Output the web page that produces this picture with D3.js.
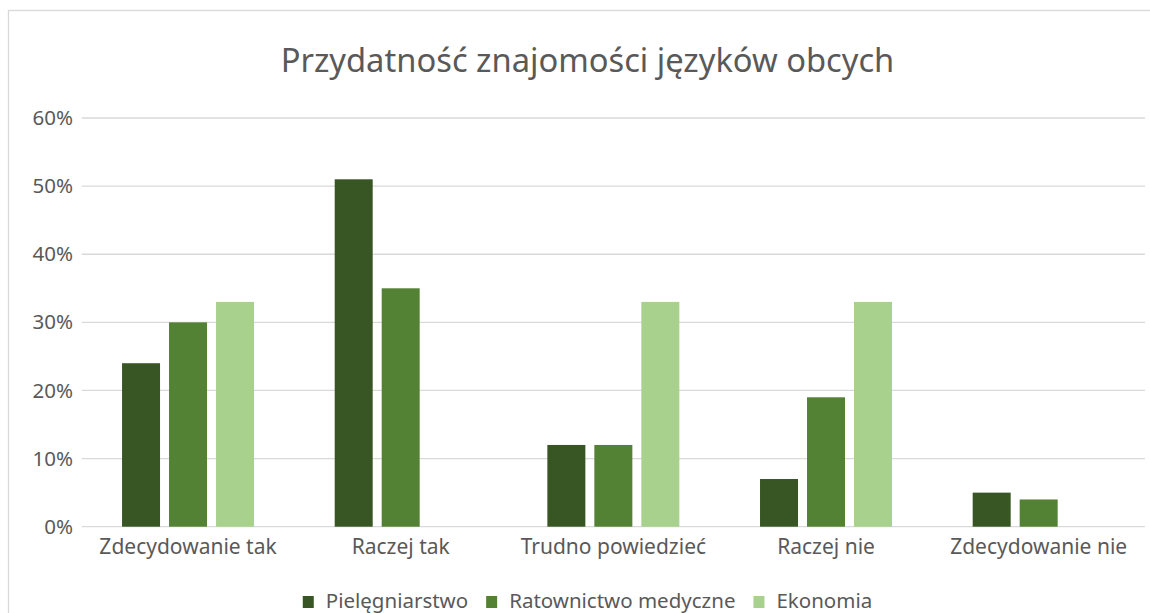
<!DOCTYPE html>
<html><head><meta charset="utf-8">
<script src="https://cdn.jsdelivr.net/npm/d3@7"></script>
<style>
html,body{margin:0;padding:0;background:#fff;}
text{font-family:"Noto Sans",sans-serif;fill:#595959;}
</style></head>
<body><svg id="chart" width="1150" height="613"></svg>
<script>
const title = "Przydatność znajomości języków obcych";
const categories = ["Zdecydowanie tak","Raczej tak","Trudno powiedzieć","Raczej nie","Zdecydowanie nie"];
const seriesNames = ["Pielęgniarstwo","Ratownictwo medyczne","Ekonomia"];
const pielegniarstwo = [0.24,0.51,0.12,0.07,0.05];
const ratownictwo = [0.30,0.35,0.12,0.19,0.04];
const ekonomia = [0.33,0.00,0.33,0.33,0.00];
const yTicks = [0,0.1,0.2,0.3,0.4,0.5,0.6];
const colors = ["#375623","#548235","#A9D18E"];

const seriesValues = [pielegniarstwo, ratownictwo, ekonomia];
const svg = d3.select("#chart");
svg.append("rect").attr("width",1150).attr("height",613).attr("fill","#fff");
svg.append("rect").attr("x",8.5).attr("y",10.5).attr("width",1300).attr("height",800)
  .attr("fill","none").attr("stroke","#D9D9D9").attr("stroke-width",1.3);

const plot = {left:81.7, right:1145, top:118, bottom:526.7};
const y = d3.scaleLinear().domain([0,0.6]).range([plot.bottom, plot.top]);
const x0 = d3.scaleBand().domain(categories).range([plot.left, plot.right]).paddingInner(0).paddingOuter(0);
const groupW = x0.bandwidth()*0.6206;
const x1 = d3.scaleBand().domain(seriesNames).range([0, groupW]).paddingInner(0.1915).paddingOuter(0);

// gridlines
svg.append("g").selectAll("line").data(yTicks).join("line")
  .attr("x1",plot.left).attr("x2",plot.right)
  .attr("y1",d=>y(d)).attr("y2",d=>y(d))
  .attr("stroke","#D9D9D9").attr("stroke-width",1.3);

// y labels
const yAxis = d3.axisLeft(y).tickValues(yTicks).tickFormat(d3.format(".0%")).tickSize(0).tickPadding(0);
const ya = svg.append("g").attr("transform",`translate(73,0)`).call(yAxis);
ya.select(".domain").remove();
ya.selectAll("text").style("font-family","'Noto Sans',sans-serif").style("font-size","20.5px").attr("fill","#595959");

// bars
const groups = svg.append("g").selectAll("g").data(categories).join("g")
  .attr("transform",d=>`translate(${x0(d)+(x0.bandwidth()-groupW)/2},0)`);
groups.selectAll("rect").data((c,i)=>seriesNames.map((s,j)=>({s, j, v:seriesValues[j][i]})))
  .join("rect")
  .attr("x",d=>x1(d.s)).attr("width",x1.bandwidth())
  .attr("y",d=>y(d.v)).attr("height",d=>y(0)-y(d.v))
  .attr("fill",d=>colors[d.j]);

// x labels
const xAxis = d3.axisBottom(x0).tickSize(0).tickPadding(0);
const xa = svg.append("g").attr("transform",`translate(0,539)`).call(xAxis);
xa.select(".domain").remove();
xa.selectAll("text").style("font-family","'Noto Sans',sans-serif").style("font-size","21px").attr("fill","#595959").attr("dy","0.71em");

// title
svg.append("text").attr("x",587.5).attr("y",72).attr("text-anchor","middle")
  .style("font-size","32.7px").text(title);

// legend
const leg = svg.append("g");
const items = leg.selectAll("g").data(seriesNames).join("g");
items.append("rect").attr("width",11).attr("height",12).attr("y",596).attr("fill",(d,i)=>colors[i]);
items.append("text").attr("x",23).attr("y",608).style("font-size","20.5px").text(d=>d);
let xpos = 0;
items.each(function(){
  const w = d3.select(this).select("text").node().getComputedTextLength();
  d3.select(this).attr("transform",`translate(${xpos},0)`);
  xpos += 23 + w + 18;
});
const total = xpos - 18;
leg.attr("transform",`translate(${587.5 - total/2},0)`);
</script></body></html>
